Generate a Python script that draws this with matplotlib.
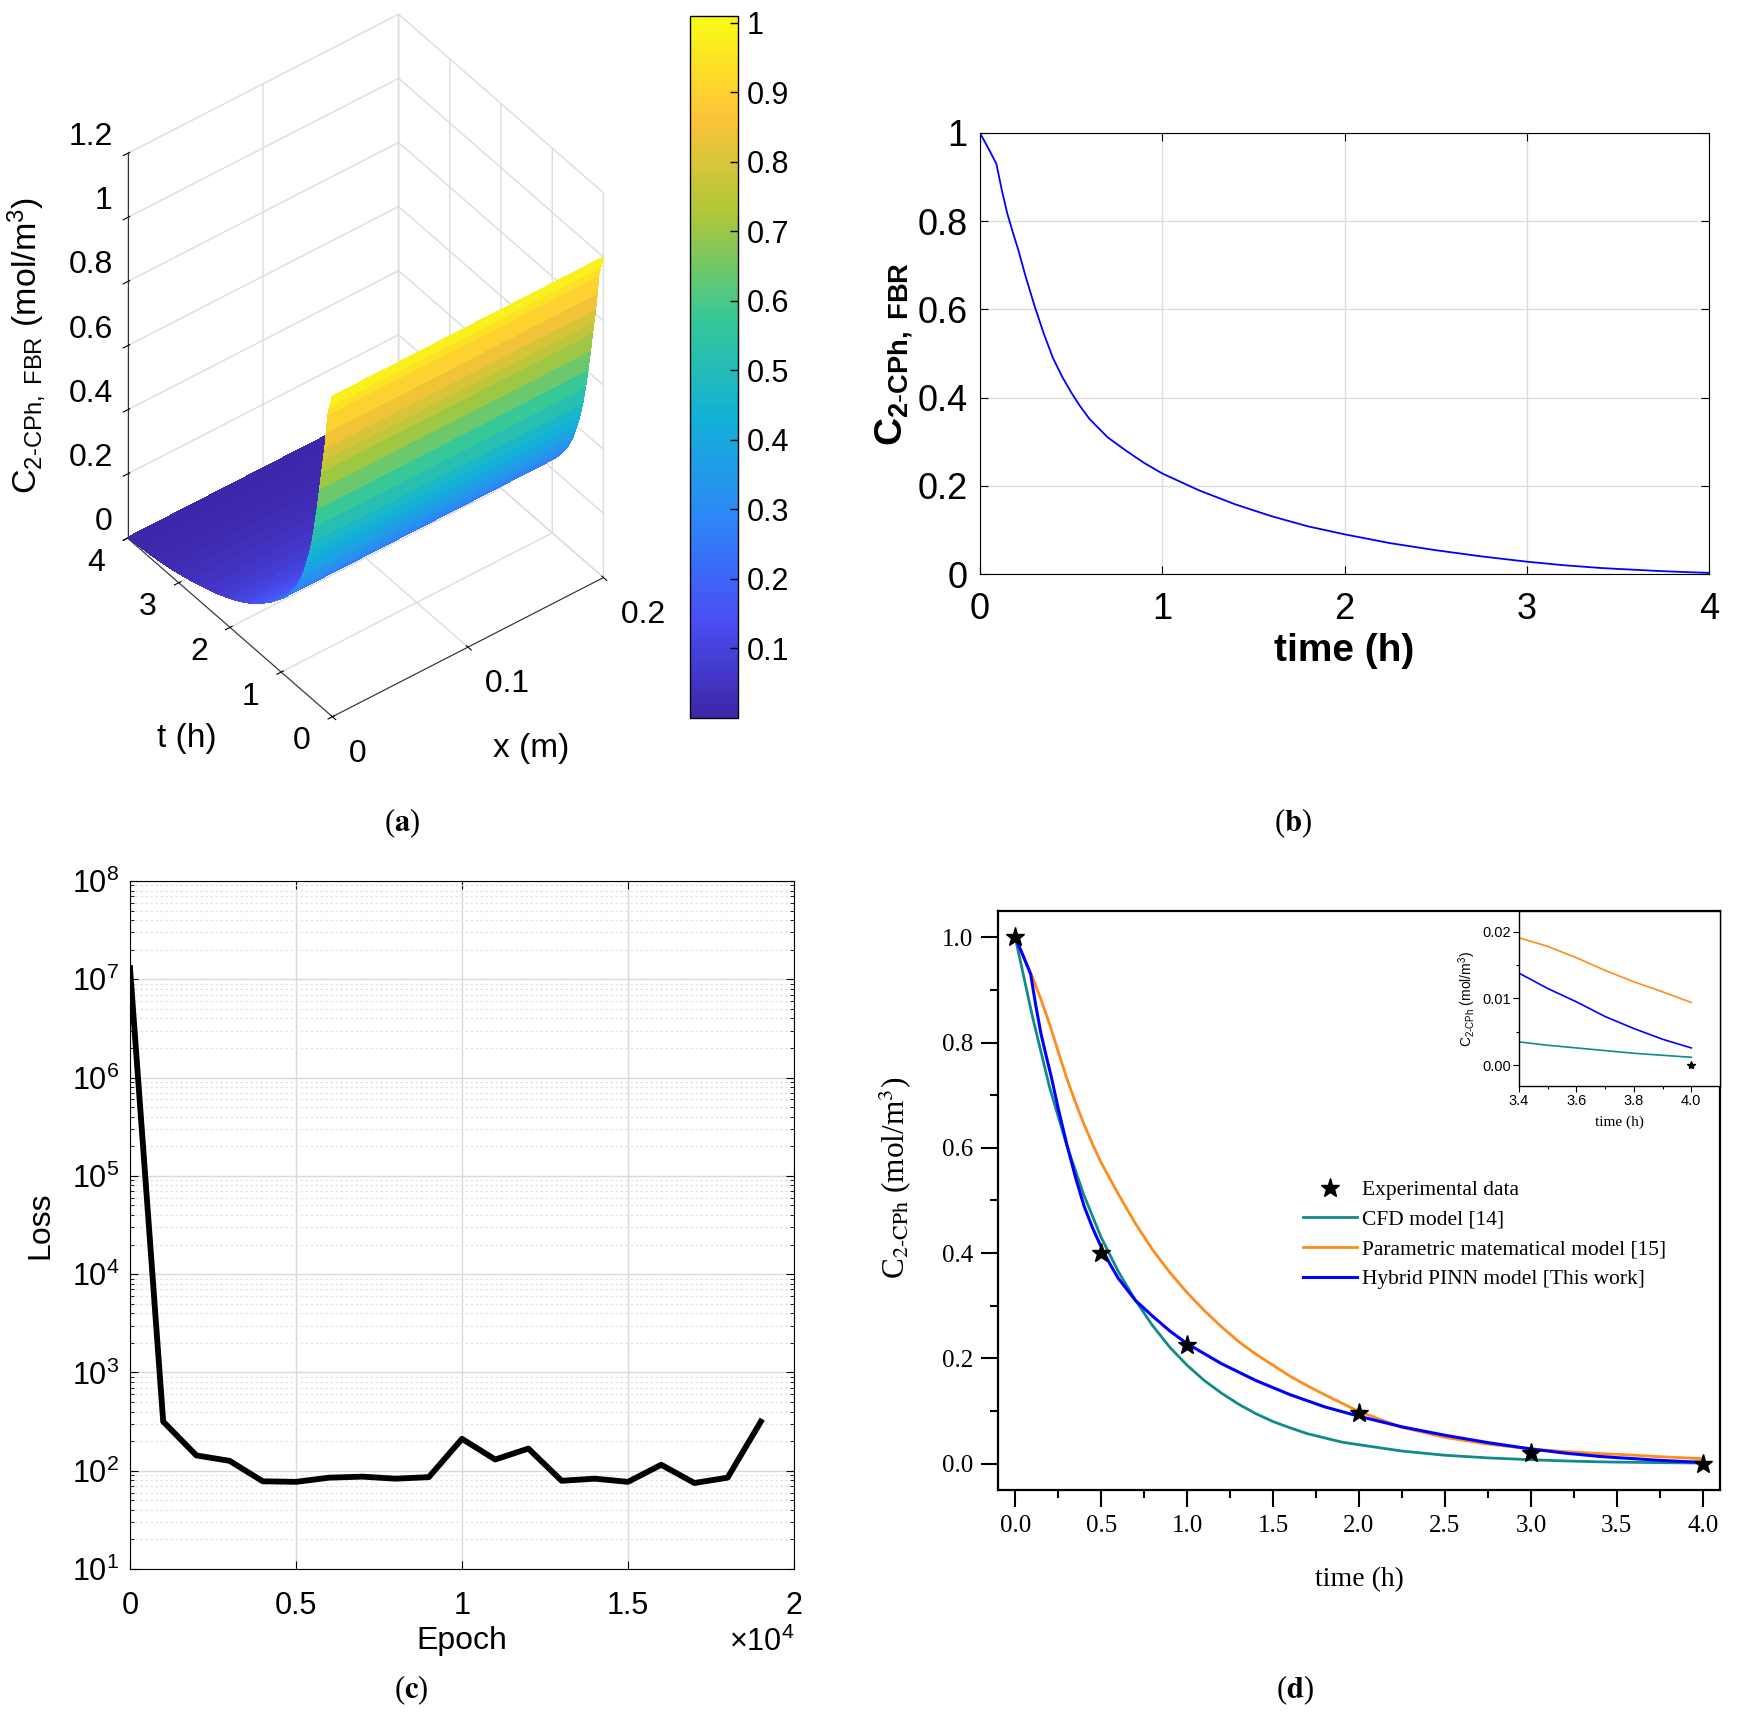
import numpy as np
import matplotlib
matplotlib.use("Agg")
import matplotlib.pyplot as plt
from matplotlib.colors import LinearSegmentedColormap, Normalize
from matplotlib.cm import ScalarMappable
from matplotlib.ticker import LogLocator, NullFormatter

plt.rcParams["font.family"] = ["Liberation Sans", "DejaVu Sans"]
plt.rcParams["mathtext.fontset"] = "custom"
plt.rcParams["mathtext.rm"] = "Liberation Sans"
plt.rcParams["mathtext.it"] = "Liberation Sans:italic"
plt.rcParams["mathtext.bf"] = "Liberation Sans:bold"

# ---------------- data ----------------
# hybrid PINN prediction C(t), also used for the FBR surface (a) and (b)
t_pinn = [0.0, 0.05, 0.09, 0.12, 0.15, 0.18, 0.21, 0.25, 0.3, 0.35, 0.4, 0.45,
          0.5, 0.55, 0.6, 0.7, 0.8, 0.9, 1.0, 1.2, 1.4, 1.6, 1.8, 2.0, 2.25,
          2.5, 2.75, 3.0, 3.2, 3.4, 3.5, 3.6, 3.7, 3.8, 3.9, 4.0]
c_pinn = [1.0, 0.962, 0.93, 0.87, 0.817, 0.775, 0.735, 0.675, 0.607, 0.545,
          0.49, 0.448, 0.412, 0.38, 0.352, 0.31, 0.28, 0.252, 0.228, 0.19,
          0.158, 0.131, 0.108, 0.09, 0.07, 0.054, 0.04, 0.028, 0.02, 0.0138,
          0.0115, 0.0095, 0.0073, 0.0055, 0.0039, 0.0026]
x_nodes = [0.0, 0.05, 0.1, 0.15, 0.2]

# CFD model [14]
t_cfd = [0.0, 0.1, 0.2, 0.3, 0.4, 0.5, 0.6, 0.7, 0.8, 0.9, 1.0, 1.1, 1.2,
         1.3, 1.4, 1.5, 1.6, 1.7, 1.8, 1.9, 2.0, 2.25, 2.5, 2.75, 3.0, 3.2,
         3.4, 3.5, 3.6, 3.7, 3.8, 3.9, 4.0]
c_cfd = [1.0, 0.85, 0.715, 0.605, 0.51, 0.43, 0.365, 0.31, 0.262, 0.221,
         0.187, 0.158, 0.134, 0.113, 0.095, 0.080, 0.068, 0.057, 0.049,
         0.041, 0.036, 0.024, 0.016, 0.011, 0.0075, 0.0052, 0.0035, 0.0030,
         0.0026, 0.0022, 0.0018, 0.0015, 0.0012]

# parametric model [15]
t_param = [0.0, 0.05, 0.1, 0.15, 0.2, 0.25, 0.3, 0.35, 0.4, 0.45, 0.5, 0.6,
           0.7, 0.8, 0.9, 1.0, 1.1, 1.2, 1.3, 1.4, 1.5, 1.6, 1.7, 1.8, 1.9,
           2.0, 2.25, 2.5, 2.75, 3.0, 3.2, 3.4, 3.5, 3.6, 3.7, 3.8, 3.9, 4.0]
c_param = [1.0, 0.962, 0.925, 0.882, 0.835, 0.783, 0.732, 0.687, 0.645,
           0.607, 0.572, 0.512, 0.456, 0.406, 0.363, 0.325, 0.291, 0.26,
           0.232, 0.208, 0.187, 0.166, 0.148, 0.131, 0.115, 0.099, 0.069,
           0.05, 0.037, 0.028, 0.023, 0.0191, 0.0178, 0.0161, 0.0142,
           0.0125, 0.0110, 0.0094]

# experimental points
t_exp = [0.0, 0.5, 1.0, 2.0, 3.0, 4.0]
c_exp = [1.0, 0.40, 0.225, 0.096, 0.020, 0.0]

# training loss
epochs = [0, 1000, 2000, 3000, 4000, 5000, 6000, 7000, 8000, 9000, 10000,
          11000, 12000, 13000, 14000, 15000, 16000, 17000, 18000, 19000]
loss = [1.3e7, 316, 143, 126, 78, 77, 85, 87, 83, 86, 211, 130, 168, 79, 83,
        77, 115, 75, 85, 316]

# MATLAB-like parula colormap
parula_colors = ["#3e26a8", "#4850f5", "#2d87f7", "#12b1d6", "#37c896",
                 "#abc739", "#fec338", "#f9fb15"]
parula = LinearSegmentedColormap.from_list("parula", parula_colors)

W, H = 1743, 1720
fig = plt.figure(figsize=(W / 100, H / 100), dpi=100)


def rect(x0, y0, x1, y1):
    # pixel box (top-left origin) -> figure fraction
    return [x0 / W, 1 - y1 / H, (x1 - x0) / W, (y1 - y0) / H]


def align(labels, ha=None, va=None):
    for lab in labels:
        if ha:
            lab.set_ha(ha)
        if va:
            lab.set_va(va)


# ==========================================================
#   (a) surface C(x, t)
# ==========================================================
S = 685
cx, cy = 365.5, 365.5
ax3 = fig.add_axes(rect(cx - 0.5135 * S, cy - (1 - 0.5135) * S,
                        cx + (1 - 0.5135) * S, cy + 0.5135 * S),
                   projection="3d")
ax3.set_proj_type("ortho")
ax3.view_init(elev=42, azim=-127.5)
ax3.set_box_aspect((1, 0.985, 1.515), zoom=1.0)

X, T = np.meshgrid(np.array(x_nodes), np.array(t_pinn))
Z = np.tile(np.array(c_pinn)[:, None], (1, len(x_nodes)))
norm = Normalize(vmin=0.0, vmax=1.01)
ax3.plot_surface(X, T, Z, cmap=parula, norm=norm, rstride=1, cstride=1,
                 linewidth=0, antialiased=False, shade=False)
ax3.set_xlim(0, 0.2)
ax3.set_ylim(0, 4)
ax3.set_zlim(0, 1.2)
ax3.set_xticks([0, 0.1, 0.2], [" 0", " 0.1", " 0.2"])
ax3.set_yticks([0, 1, 2, 3, 4], ["0 ", "1 ", "2 ", "3 ", "4 "])
ax3.set_zticks([0, 0.2, 0.4, 0.6, 0.8, 1.0, 1.2],
               ["0", "0.2", "0.4", "0.6", "0.8", "1", "1.2"])
for axis in (ax3.xaxis, ax3.yaxis, ax3.zaxis):
    axis.set_pane_color((1, 1, 1, 0))
    axis.pane.set_edgecolor("#d8d8d8")
    axis._axinfo["grid"]["color"] = "#dcdcdc"
    axis._axinfo["grid"]["linewidth"] = 1.0
    axis.line.set_color("#333333")
ax3.tick_params(labelsize=23)
ax3.tick_params(axis="x", pad=2.1)
ax3.tick_params(axis="y", pad=4.0)
ax3.tick_params(axis="z", pad=0)
align(ax3.get_xticklabels(), ha="left")
align(ax3.get_yticklabels(), ha="right", va="center")
align(ax3.get_zticklabels(), ha="right", va="bottom")

fig.text(187 / W, 1 - 739 / H, "t (h)", ha="center", va="center", fontsize=24)
fig.text(531 / W, 1 - 748 / H, "x (m)", ha="center", va="center", fontsize=24)
fig.text(27 / W, 1 - 345 / H,
         r"C$_{\mathregular{2\text{-}CPh,\ FBR}}$ (mol/m$^{3}$)",
         ha="center", va="center", rotation=90, fontsize=24.5)

cax = fig.add_axes(rect(690, 16, 738, 718))
cb = fig.colorbar(ScalarMappable(norm=norm, cmap=parula), cax=cax)
cb.set_ticks([0.1, 0.2, 0.3, 0.4, 0.5, 0.6, 0.7, 0.8, 0.9, 1.0])
cb.set_ticklabels(["0.1", "0.2", "0.3", "0.4", "0.5", "0.6", "0.7", "0.8",
                   "0.9", "1"])
cb.ax.tick_params(direction="in", labelsize=22, length=6, width=1, pad=6.5)
cb.outline.set_linewidth(1.0)

# ==========================================================
#   (b) C(t) at reactor outlet
# ==========================================================
axb = fig.add_axes(rect(980, 133, 1709, 574))
axb.plot(t_pinn, c_pinn, color="#0000ff", lw=1.3)
axb.set_xlim(0, 4)
axb.set_ylim(0, 1)
axb.set_xticks([0, 1, 2, 3, 4], ["0", "1", "2", "3", "4"])
axb.set_yticks([0, 0.2, 0.4, 0.6, 0.8, 1.0],
               ["0", "0.2", "0.4", "0.6", "0.8", "1"])
axb.grid(True, color="#dcdcdc", lw=1.0)
axb.tick_params(direction="in", top=True, right=True, length=6, labelsize=26)
axb.tick_params(axis="x", pad=13)
axb.tick_params(axis="y", pad=9)
axb.set_xlabel("time (h)", fontsize=28, fontweight="bold")
axb.set_ylabel(r"$\mathbf{C_{2\text{-}CPh,\ FBR}}$", fontsize=28, labelpad=1)

# ==========================================================
#   (c) training loss
# ==========================================================
axc = fig.add_axes(rect(130, 881, 794, 1569))
axc.semilogy(epochs, loss, color="black", lw=4.2)
axc.set_xlim(0, 20000)
axc.set_ylim(10, 1e8)
axc.set_xticks([0, 5000, 10000, 15000, 20000], ["0", "0.5", "1", "1.5", "2"])
axc.yaxis.set_major_locator(LogLocator(base=10, numticks=20))
axc.yaxis.set_minor_locator(LogLocator(base=10, subs=np.arange(2, 10) * 1.0,
                                       numticks=100))
axc.yaxis.set_minor_formatter(NullFormatter())
axc.grid(True, which="major", color="#d9d9d9", lw=1.0)
axc.grid(True, which="minor", axis="y", color="#e2e2e2", lw=0.9,
         ls=(0, (2, 2)))
axc.tick_params(which="both", direction="in", top=True, right=True,
                labelsize=22)
axc.tick_params(which="major", length=6)
axc.tick_params(which="minor", length=3)
axc.tick_params(axis="x", pad=15.5)
axc.tick_params(axis="y", pad=7.5)
axc.set_xlabel("Epoch", fontsize=23)
axc.set_ylabel("Loss", fontsize=23, labelpad=12)
axc.text(1.0, -0.107, r"$\times$10$^{4}$", transform=axc.transAxes,
         ha="right", va="center", fontsize=22)

# ==========================================================
#   (d) model comparison
# ==========================================================
serif = ["Liberation Serif", "DejaVu Serif"]
col_cfd, col_par, col_pinn = "#138a8a", "#ff8c1a", "#0000ff"

axd = fig.add_axes(rect(998, 911, 1720, 1490))
l_cfd, = axd.plot(t_cfd, c_cfd, color=col_cfd, lw=2.0)
l_par, = axd.plot(t_param, c_param, color=col_par, lw=2.0)
l_pin, = axd.plot(t_pinn, c_pinn, color=col_pinn, lw=2.2)
l_exp, = axd.plot(t_exp, c_exp, ls="none", marker="*", color="black", ms=14)
axd.set_xlim(-0.1, 4.1)
axd.set_ylim(-0.05, 1.05)
axd.set_xticks([0, 0.5, 1, 1.5, 2, 2.5, 3, 3.5, 4])
axd.set_xticks([0.25, 0.75, 1.25, 1.75, 2.25, 2.75, 3.25, 3.75], minor=True)
axd.set_yticks([0, 0.2, 0.4, 0.6, 0.8, 1.0])
axd.set_yticks([0.1, 0.3, 0.5, 0.7, 0.9], minor=True)
axd.xaxis.set_major_formatter(lambda v, p: f"{v:.1f}")
axd.yaxis.set_major_formatter(lambda v, p: f"{v:.1f}")
axd.tick_params(which="both", direction="out", width=1.5)
axd.tick_params(which="major", length=12, labelsize=18, pad=6)
axd.tick_params(which="minor", length=6)
for lab in axd.get_xticklabels() + axd.get_yticklabels():
    lab.set_family(serif)
for sp in axd.spines.values():
    sp.set_linewidth(1.6)
axd.set_xlabel("time (h)", fontsize=20, family=serif, labelpad=22)
axd.set_ylabel(r"C$_{\mathrm{2\text{-}CPh}}$ (mol/m$^{3}$)", fontsize=22.5,
               family=serif, math_fontfamily="stix")
axd.yaxis.set_label_coords(-0.118, 0.54)
axd.legend([l_exp, l_cfd, l_par, l_pin],
           ["Experimental data", "CFD model [14]",
            "Parametric matematical model [15]",
            "Hybrid PINN model [This work]"],
           loc="upper left", bbox_to_anchor=(1303 / W, 1 - 1180 / H),
           bbox_transform=fig.transFigure, frameon=False,
           prop={"family": serif, "size": 15.5}, handlelength=2.5,
           handletextpad=0.25, labelspacing=0.45, borderpad=0,
           borderaxespad=0)

# inset zoom of the tail
axi = fig.add_axes(rect(1519, 911, 1720, 1086))
axi.plot(t_cfd, c_cfd, color=col_cfd, lw=1.2)
axi.plot(t_param, c_param, color=col_par, lw=1.2)
axi.plot(t_pinn, c_pinn, color=col_pinn, lw=1.2)
axi.plot(t_exp, c_exp, ls="none", marker="*", color="black", ms=6)
axi.set_xlim(3.4, 4.1)
axi.set_ylim(-0.0031, 0.0231)
axi.set_xticks([3.4, 3.6, 3.8, 4.0], ["3.4", "3.6", "3.8", "4.0"])
axi.set_xticks([3.5, 3.7, 3.9], minor=True)
axi.set_yticks([0.0, 0.01, 0.02], ["0.00", "0.01", "0.02"])
axi.set_yticks([0.005, 0.015], minor=True)
axi.tick_params(which="both", direction="out", labelsize=10.5, width=0.8)
axi.tick_params(which="major", length=4, pad=2)
axi.tick_params(which="minor", length=2)
for sp in axi.spines.values():
    sp.set_linewidth(1.0)
axi.set_xlabel("time (h)", fontsize=11, family=serif, labelpad=5)
axi.set_ylabel(r"C$_{\mathregular{2\text{-}CPh}}$ (mol/m$^{3}$)", fontsize=10,
               labelpad=3)

# ==========================================================
#   panel captions
# ==========================================================
for lbl, (px, py) in zip("abcd", [(402, 823), (1293, 823), (411, 1690),
                                  (1295, 1690)]):
    fig.text(px / W, 1 - py / H, r"($\mathbf{%s}$)" % lbl, ha="center",
             va="center", fontsize=22, family=serif, math_fontfamily="stix")

fig.savefig("out.png", dpi=100)
